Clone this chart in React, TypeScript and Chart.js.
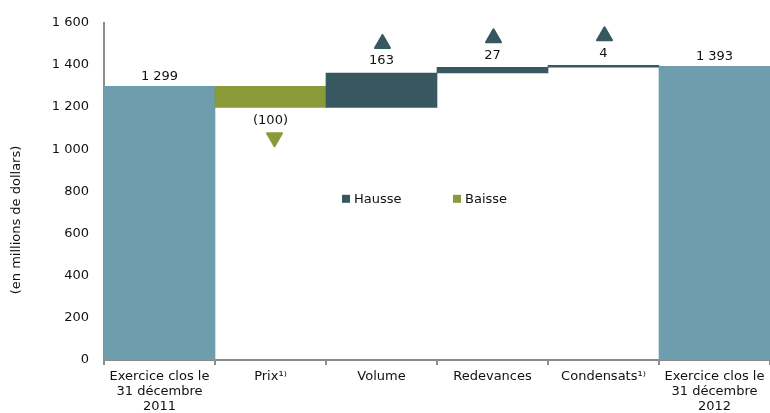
import React, { useEffect, useRef } from "react";
import { Chart, registerables } from "chart.js";

Chart.register(...registerables);

const categories: (string | string[])[] = [
  ["Exercice clos le", "31 décembre", "2011"],
  "Prix¹⁾",
  "Volume",
  "Redevances",
  "Condensats¹⁾",
  ["Exercice clos le", "31 décembre", "2012"],
];
const values = [1299, -100, 163, 27, 4, 1393];
const kinds = ["total", "delta", "delta", "delta", "delta", "total"];
const yTicks = [0, 200, 400, 600, 800, 1000, 1200, 1400, 1600];
const legendItems = ["Hausse", "Baisse"];
const yTitle = "(en millions de dollars)";

const COL_TOTAL = "#6E9EAE";
const COL_UP = "#37585F";
const COL_DOWN = "#8A9A38";
const AXIS = "#8C8C8C";
const TEXT = "#111111";
const FONT = "DejaVu Sans";

const fmt = (v: number) => {
  const s = Math.abs(v).toString().replace(/\B(?=(\d{3})+(?!\d))/g, " ");
  return v < 0 ? `(${s})` : s;
};

const ranges: [number, number][] = [];
{
  let run = 0;
  values.forEach((v, i) => {
    if (kinds[i] === "total") {
      ranges.push([0, v]);
      run = v;
    } else {
      ranges.push([run, run + v]);
      run += v;
    }
  });
}
const colors = values.map((v, i) =>
  kinds[i] === "total" ? COL_TOTAL : v >= 0 ? COL_UP : COL_DOWN
);

function drawTri(ctx: any, cx: number, edgeY: number, up: boolean, color: string) {
  const w = 15;
  const h = 13;
  ctx.save();
  ctx.fillStyle = color;
  ctx.strokeStyle = color;
  ctx.lineWidth = 2;
  ctx.lineJoin = "round";
  ctx.beginPath();
  if (up) {
    ctx.moveTo(cx - w / 2, edgeY);
    ctx.lineTo(cx + w / 2, edgeY);
    ctx.lineTo(cx, edgeY - h);
  } else {
    ctx.moveTo(cx - w / 2, edgeY);
    ctx.lineTo(cx + w / 2, edgeY);
    ctx.lineTo(cx, edgeY + h);
  }
  ctx.closePath();
  ctx.fill();
  ctx.stroke();
  ctx.restore();
}

const annotPlugin = {
  id: "annot",
  afterDatasetsDraw(chart: any) {
    const ctx = chart.ctx;
    const meta = chart.getDatasetMeta(0);
    const area = chart.chartArea;
    ctx.save();
    ctx.font = `13px "${FONT}"`;
    ctx.fillStyle = TEXT;
    ctx.textAlign = "center";
    ctx.textBaseline = "middle";
    meta.data.forEach((bar: any, i: number) => {
      const p = bar.getProps(["x", "y", "base"], true);
      const top = Math.min(p.y, p.base);
      const bottom = Math.max(p.y, p.base);
      const v = values[i];
      ctx.fillStyle = TEXT;
      if (v >= 0) {
        const ly = top - (kinds[i] === "total" ? 10 : 12);
        ctx.fillText(fmt(v), p.x, ly);
        if (kinds[i] === "delta") {
          drawTri(ctx, p.x + 1, ly - 13, true, COL_UP);
        }
      } else {
        const ly = bottom + 13;
        ctx.fillText(fmt(v), p.x, ly);
        drawTri(ctx, p.x + 4, ly + 13, false, COL_DOWN);
      }
    });
    // legend
    const lx = area.left + 238;
    const ly = area.top + 176;
    const legCols = [COL_UP, COL_DOWN];
    const offs = [0, 111];
    legendItems.forEach((t, k) => {
      ctx.fillStyle = legCols[k];
      ctx.fillRect(lx + offs[k], ly - 4, 8, 8);
      ctx.fillStyle = TEXT;
      ctx.textAlign = "left";
      ctx.fillText(t, lx + offs[k] + 12, ly + 1);
    });
    // y title
    ctx.translate(17, 220);
    ctx.rotate(-Math.PI / 2);
    ctx.textAlign = "center";
    ctx.fillStyle = TEXT;
    ctx.fillText(yTitle, 0, 0);
    ctx.restore();
  },
};

export default function App() {
  const ref = useRef<HTMLCanvasElement>(null);
  useEffect(() => {
    if (!ref.current) return;
    const chart = new Chart(ref.current, {
      type: "bar",
      data: {
        labels: categories,
        datasets: [
          {
            label: "Valeurs",
            data: ranges as any,
            backgroundColor: colors,
            borderWidth: 0,
            barPercentage: 1,
            categoryPercentage: 1,
            minBarLength: 2,
          },
        ],
      },
      options: {
        responsive: false,
        animation: false,
        layout: { padding: { top: 21, left: 0, right: 0, bottom: 0 } },
        plugins: {
          legend: { display: false },
          tooltip: { enabled: false },
        },
        scales: {
          x: {
            offset: true,
            grid: {
              offset: true,
              drawOnChartArea: false,
              drawTicks: true,
              tickLength: 5,
              color: AXIS,
              lineWidth: 2,
            },
            border: { display: true, color: AXIS, width: 2 },
            ticks: {
              color: TEXT,
              font: { family: FONT, size: 13, lineHeight: 1.15 },
              padding: 4,
              maxRotation: 0,
              autoSkip: false,
            },
            afterFit: (s: any) => {
              s.height = 53;
            },
          },
          y: {
            min: 0,
            max: 1600,
            afterBuildTicks: (s: any) => {
              s.ticks = yTicks.map((v) => ({ value: v }));
            },
            grid: { display: false, drawTicks: false },
            border: { display: true, color: AXIS, width: 2 },
            ticks: {
              color: TEXT,
              font: { family: FONT, size: 13 },
              padding: 15,
              callback: (v: any) => fmt(Number(v)),
            },
            afterFit: (s: any) => {
              s.width = 104;
            },
          },
        },
      },
      plugins: [annotPlugin],
    });
    return () => chart.destroy();
  }, []);
  return (
    <div style={{ position: "absolute", left: 0, top: 0, width: 770, height: 413, background: "#fff" }}>
      <canvas ref={ref} width={770} height={413} />
    </div>
  );
}
